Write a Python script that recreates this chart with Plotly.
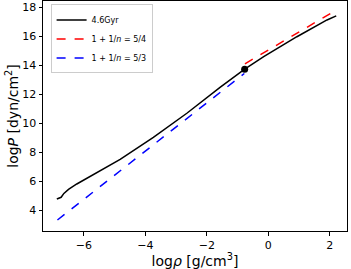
import plotly.graph_objects as go

# black model curve (4.6 Gyr)
model_logrho = [-6.88, -6.74, -6.65, -6.5, -6.23, -4.82, -3.74, -2.65, -1.56, -1.18, -0.78, -0.15, 0.93, 1.91, 2.21]
model_logP = [4.76, 4.88, 5.15, 5.43, 5.8, 7.5, 9.03, 10.69, 12.49, 13.08, 13.73, 14.6, 15.98, 17.14, 17.42]

# polytrope: 1+1/n = 5/4 (outer, red)
red_logrho = [-0.76, 2.21]
red_logP = [14.11, 17.82]

# polytrope: 1+1/n = 5/3 (inner, blue)
blue_logrho = [-6.86, -0.78]
blue_logP = [3.31, 13.44]

# transition point
dot_logrho = [-0.77]
dot_logP = [13.73]

x_ticks = [-6, -4, -2, 0, 2]
x_ticktext = ["\u22126", "\u22124", "\u22122", "0", "2"]
y_ticks = [4, 6, 8, 10, 12, 14, 16, 18]

fig = go.Figure()
fig.add_trace(go.Scatter(x=model_logrho, y=model_logP, mode="lines",
                         line=dict(color="black", width=1.5), name="4.6Gyr"))
fig.add_trace(go.Scatter(x=red_logrho, y=red_logP, mode="lines",
                         line=dict(color="red", width=1.5, dash="dash"),
                         name="1 + 1/<i>n</i> = 5/4"))
fig.add_trace(go.Scatter(x=blue_logrho, y=blue_logP, mode="lines",
                         line=dict(color="blue", width=1.5, dash="dash"),
                         name="1 + 1/<i>n</i> = 5/3"))
fig.add_trace(go.Scatter(x=dot_logrho, y=dot_logP, mode="markers",
                         marker=dict(color="black", size=7), showlegend=False))

axis_common = dict(showline=True, linecolor="black", linewidth=1, mirror=True,
                   ticks="outside", ticklen=3.5, tickcolor="black",
                   showgrid=False, zeroline=False, automargin=False,
                   tickfont=dict(family="DejaVu Sans", size=11, color="black"))

fig.update_layout(
    width=351, height=269,
    margin=dict(l=43, r=4, t=1, b=38),
    paper_bgcolor="white", plot_bgcolor="white",
    xaxis=dict(range=[-7.33, 2.56], tickvals=x_ticks, ticktext=x_ticktext,
               title=dict(text="log<i>\u03c1</i> [g/cm<sup>3</sup>]", standoff=0,
                          font=dict(family="DejaVu Sans", size=14, color="black")),
               **axis_common),
    yaxis=dict(range=[2.55, 18.45], tickvals=y_ticks,
               title=dict(text="log<i>P</i> [dyn/cm<sup>2</sup>]", standoff=0,
                          font=dict(family="DejaVu Sans", size=14, color="black")),
               **axis_common),
    legend=dict(x=0.025, y=0.985, xanchor="left", yanchor="top",
                bgcolor="white", bordercolor="#cccccc", borderwidth=1,
                font=dict(family="DejaVu Sans", size=8, color="black"),
                itemwidth=30, tracegroupgap=0),
    showlegend=True,
)

fig.write_html("out.html", config={"displayModeBar": False},
               post_script="document.body.style.margin='0';")
